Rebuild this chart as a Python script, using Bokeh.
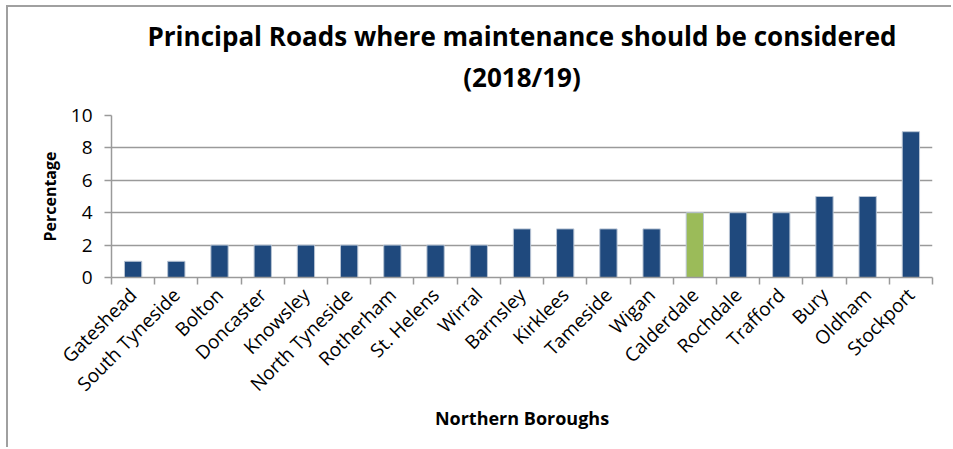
import math
from bokeh.plotting import figure
from bokeh.models import Range1d, FixedTicker, ColumnDataSource, Title
from bokeh.embed import file_html
from bokeh.resources import INLINE

boroughs = ["Gateshead", "South Tyneside", "Bolton", "Doncaster", "Knowsley",
            "North Tyneside", "Rotherham", "St. Helens", "Wirral", "Barnsley",
            "Kirklees", "Tameside", "Wigan", "Calderdale", "Rochdale",
            "Trafford", "Bury", "Oldham", "Stockport"]
percentages = [1, 1, 2, 2, 2, 2, 2, 2, 2, 3, 3, 3, 3, 4, 4, 4, 5, 5, 9]
highlight = "Calderdale"
y_ticks = [0, 2, 4, 6, 8, 10]
title_line1 = "Principal Roads where maintenance should be considered"
title_line2 = "(2018/19)"

NAVY = "#1F497D"
GREEN = "#9BBB59"
GRID = "#9a9a9a"
FONT = "Open Sans"

n = len(boroughs)
centers = [i + 0.5 for i in range(n)]
colors = [GREEN if b == highlight else NAVY for b in boroughs]
src = ColumnDataSource(dict(x=centers, top=percentages, color=colors, name=boroughs))

p = figure(width=945, height=442, output_backend="svg", toolbar_location=None,
           x_range=Range1d(0, n), y_range=Range1d(0, max(y_ticks)),
           min_border_left=103, min_border_right=21, min_border_top=108,
           min_border_bottom=172)
p.styles = {"margin-left": "6px", "margin-top": "5px",
            "border-top": "2px solid #a0a0a0", "border-left": "2px solid #a0a0a0"}

p.vbar(x="x", top="top", width=0.4, bottom=0, fill_color="color",
       line_color="#b8c4d4", line_width=1, source=src)

# two-line title (a tiny blank spacer title keeps the second line off the frame)
p.title.text = ""
p.title.standoff = 0
p.add_layout(Title(text=" ", text_font_size="1px", standoff=6), "above")
p.add_layout(Title(text=title_line2, align="center", text_font=FONT,
                   text_font_size="26px", text_font_style="bold",
                   text_color="#000000", standoff=23), "above")
p.add_layout(Title(text=title_line1, align="center", text_font=FONT,
                   text_font_size="26px", text_font_style="bold",
                   text_color="#000000", standoff=-17), "above")

# x axis
xa = p.xaxis[0]
xa.ticker = FixedTicker(ticks=centers, minor_ticks=list(range(n + 1)))
xa.major_label_overrides = {c: b for c, b in zip(centers, boroughs)}
xa.major_label_orientation = math.pi / 4
xa.major_tick_out = 0
xa.major_tick_in = 0
xa.minor_tick_out = 7
xa.minor_tick_in = 0
xa.minor_tick_line_color = GRID
xa.minor_tick_line_width = 1.5
xa.axis_line_color = GRID
xa.axis_line_width = 1.5
xa.major_label_text_font = FONT
xa.major_label_text_font_size = "19px"
xa.major_label_text_color = "#000000"
xa.major_label_standoff = 7
xa.axis_label = "Northern Boroughs"
xa.axis_label_text_font = FONT
xa.axis_label_text_font_size = "18px"
xa.axis_label_text_font_style = "bold"
xa.axis_label_text_color = "#000000"
xa.axis_label_standoff = -3

# y axis
ya = p.yaxis[0]
ya.ticker = FixedTicker(ticks=y_ticks)
ya.major_tick_out = 7
ya.major_tick_in = 0
ya.minor_tick_out = 0
ya.minor_tick_in = 0
ya.major_tick_line_color = GRID
ya.major_tick_line_width = 1.5
ya.axis_line_color = GRID
ya.axis_line_width = 1.5
ya.major_label_text_font = FONT
ya.major_label_text_font_size = "19px"
ya.major_label_text_color = "#000000"
ya.major_label_standoff = 12
ya.axis_label = "Percentage"
ya.axis_label_text_font = FONT
ya.axis_label_text_font_size = "16px"
ya.axis_label_text_font_style = "bold"
ya.axis_label_text_color = "#000000"
ya.axis_label_standoff = 7

p.xgrid.grid_line_color = None
p.ygrid.ticker = FixedTicker(ticks=y_ticks)
p.ygrid.grid_line_color = GRID
p.ygrid.grid_line_width = 1.5
p.outline_line_color = None
p.background_fill_color = "white"
p.border_fill_color = "white"

open("out.html", "w").write(file_html(p, INLINE))
